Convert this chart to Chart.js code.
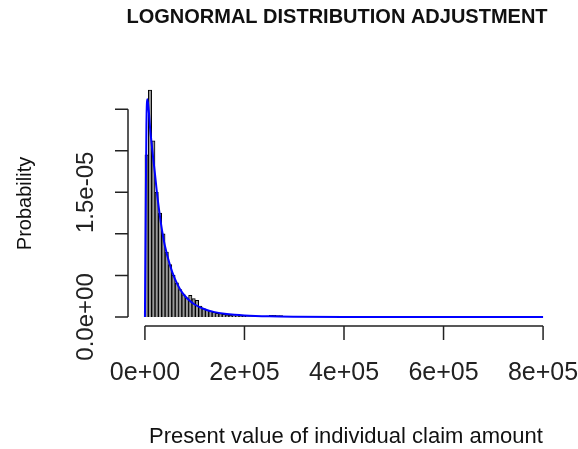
<!DOCTYPE html>
<html>
<head>
<meta charset="utf-8">
<script src="https://cdn.jsdelivr.net/npm/chart.js@4.4.1/dist/chart.umd.min.js"></script>
<style>
  html, body { margin:0; padding:0; background:#fff; }
  canvas { display:block; }
</style>
</head>
<body>
<canvas id="chart-lognormal" width="578" height="449"></canvas>
<script>
// Histograma + ajuste lognormal

const binStart = 0;
const binWidth = 6750;
const histDensity = [
  1.95e-5, 2.73e-5, 2.12e-5, 1.5e-5, 1.25e-5, 1.0e-5, 7.8e-6, 6.3e-6, 5.0e-6, 4.1e-6,
  3.3e-6, 2.7e-6, 2.3e-6, 2.6e-6, 2.2e-6, 2.0e-6, 1.3e-6, 1.0e-6, 8e-7, 7e-7,
  5.5e-7, 4.5e-7, 4e-7, 3e-7, 2.5e-7, 2e-7, 1.5e-7, 1.2e-7, 8e-8, 6e-8,
  5e-8, 4e-8, 4e-8, 3e-8, 0, 0, 1e-7, 2e-7, 2e-7, 1.5e-7, 1.5e-7
];

const curveX = [0, 1500, 3000, 5000, 7500, 10000, 15000, 20000, 25000, 30000, 35000, 40000,
  50000, 60000, 70000, 80000, 90000, 100000, 120000, 140000, 160000, 180000, 200000,
  250000, 300000, 400000, 600000, 800000];
const curveY = [0, 1.2e-5, 2.3e-5, 2.62e-5, 2.5e-5, 2.3e-5, 2.0e-5, 1.73e-5, 1.45e-5, 1.22e-5, 1.02e-5, 8.6e-6,
  6.3e-6, 4.6e-6, 3.4e-6, 2.55e-6, 1.95e-6, 1.5e-6, 9.2e-7, 5.8e-7, 3.8e-7, 2.5e-7, 1.7e-7,
  7e-8, 3e-8, 6e-9, 0, 0];

const xTicks = [0, 200000, 400000, 600000, 800000];
const xTickLabels = ['0e+00', '2e+05', '4e+05', '6e+05', '8e+05'];
const yTicks = [0, 5e-6, 1e-5, 1.5e-5, 2e-5, 2.5e-5];
const yTickLabels = ['0.0e+00', '', '', '1.5e-05', '', ''];

const titulo = 'LOGNORMAL DISTRIBUTION ADJUSTMENT';
const xTitulo = 'Present value of individual claim amount';
const yTitulo = 'Probability';

const FONT = '"Liberation Sans", Arial, Helvetica, sans-serif';

// eixos estilo R (destacados da área do gráfico)
const eixosR = {
  id: 'eixosR',
  afterDraw(chart) {
    const ctx = chart.ctx;
    const sx = chart.scales.x, sy = chart.scales.y;
    const area = chart.chartArea;
    ctx.save();
    ctx.strokeStyle = '#222';
    ctx.lineWidth = 1.5;
    ctx.fillStyle = '#222';

    // eixo x
    const yAx = area.bottom;
    ctx.beginPath();
    ctx.moveTo(sx.getPixelForValue(xTicks[0]), yAx);
    ctx.lineTo(sx.getPixelForValue(xTicks[xTicks.length-1]), yAx);
    xTicks.forEach(v => {
      const px = sx.getPixelForValue(v);
      ctx.moveTo(px, yAx);
      ctx.lineTo(px, yAx + 14);
    });
    ctx.stroke();
    ctx.font = '25px ' + FONT;
    ctx.textAlign = 'center';
    ctx.textBaseline = 'middle';
    xTicks.forEach((v, i) => {
      ctx.fillText(xTickLabels[i], sx.getPixelForValue(v), 373);
    });

    // eixo y
    const xAx = area.left - 1;
    ctx.beginPath();
    ctx.moveTo(xAx, sy.getPixelForValue(yTicks[0]));
    ctx.lineTo(xAx, sy.getPixelForValue(yTicks[yTicks.length-1]));
    yTicks.forEach(v => {
      const py = sy.getPixelForValue(v);
      ctx.moveTo(xAx, py);
      ctx.lineTo(xAx - 13, py);
    });
    ctx.stroke();
    ctx.font = '24px ' + FONT;
    yTicks.forEach((v, i) => {
      if (!yTickLabels[i]) return;
      ctx.save();
      ctx.translate(86, sy.getPixelForValue(v));
      ctx.rotate(-Math.PI/2);
      ctx.fillText(yTickLabels[i], 0, 0);
      ctx.restore();
    });

    // títulos
    ctx.fillStyle = '#111';
    ctx.font = 'bold 20px ' + FONT;
    ctx.fillText(titulo, 337, 17);
    ctx.font = '22px ' + FONT;
    ctx.fillText(xTitulo, 346, 437);
    ctx.font = '20px ' + FONT;
    ctx.save();
    ctx.translate(25, (area.top + area.bottom) / 2);
    ctx.rotate(-Math.PI/2);
    ctx.fillText(yTitulo, 0, 0);
    ctx.restore();
    ctx.restore();
  }
};

const canvas = document.getElementById('chart-lognormal');
new Chart(canvas, {
  type: 'bar',
  data: {
    datasets: [
      {
        type: 'line',
        label: 'Lognormal',
        data: curveX.map((x, i) => ({ x, y: curveY[i] })),
        borderColor: '#0000ff',
        borderWidth: 2,
        pointRadius: 0,
        cubicInterpolationMode: 'monotone',
        fill: false,
        order: 0
      },
      {
        type: 'bar',
        label: 'Histograma',
        data: histDensity.map((d, i) => ({ x: binStart + binWidth * (i + 0.5), y: d })),
        backgroundColor: '#9a9a9a',
        borderColor: '#000',
        borderWidth: 1,
        barPercentage: 1,
        categoryPercentage: 1,
        order: 1
      }
    ]
  },
  options: {
    responsive: false,
    animation: false,
    devicePixelRatio: 1,
    layout: { padding: { left: 129, right: 19, top: 81, bottom: 123 } },
    plugins: { legend: { display: false }, tooltip: { enabled: false } },
    scales: {
      x: { type: 'linear', min: -32000, max: 832000, display: false, offset: false },
      y: { type: 'linear', min: -1.09e-6, max: 2.84e-5, display: false }
    }
  },
  plugins: [eixosR]
});
</script>
</body>
</html>
